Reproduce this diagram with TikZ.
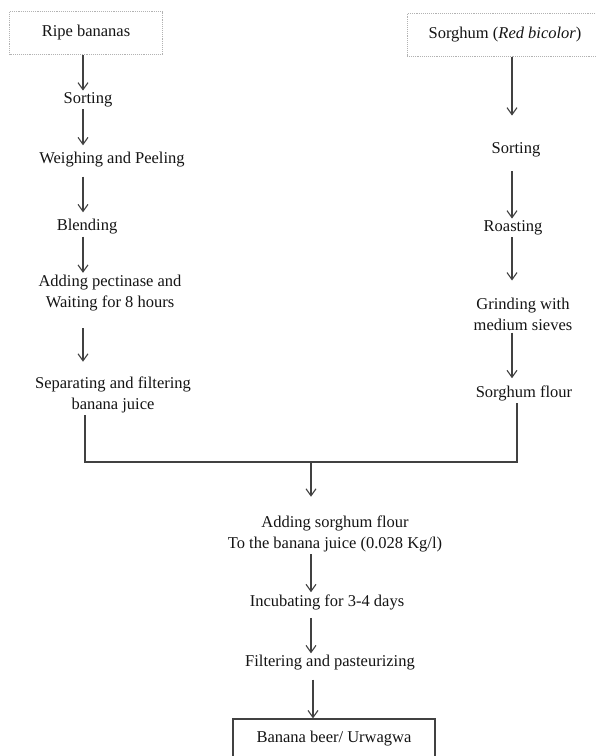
\documentclass[tikz,border=0pt]{standalone}
\usepackage{fontspec}
\setmainfont{Liberation Serif}
\usetikzlibrary{arrows.meta,positioning}
\definecolor{lineGray}{RGB}{65,65,65}
\definecolor{textGray}{RGB}{20,20,20}

\begin{document}
\begin{tikzpicture}[
    x=1pt, y=-1pt,
    stage/.style={align=center, inner xsep=2pt, inner ysep=2pt, text=textGray, font=\fontsize{16.5}{21}\selectfont},
    source/.style={stage, draw=gray!60, densely dotted, line width=0.9pt, minimum height=43pt},
    product/.style={stage, draw=lineGray, line width=1.3pt, minimum width=202pt, minimum height=40pt},
    flow/.style={-{Straight Barb[length=7pt,width=10pt]}, draw=lineGray, line width=1.1pt},
    mergeline/.style={draw=lineGray, line width=1.1pt}
]
    \useasboundingbox (0,0) rectangle (596,756);

    % columns of arrows
    \coordinate (colL) at (83,0);
    \coordinate (colR) at (512,0);
    \coordinate (colM) at (311,0);
    \coordinate (merge) at (311,462);

    % banana branch
    \node[source, minimum width=153pt] (ripe) at (86,33) {Ripe bananas};
    \node[stage] (sortL) at (88,100) {Sorting};
    \node[stage] (weigh) at (112,160) {Weighing and Peeling};
    \node[stage] (blend) at (87,227) {Blending};
    \node[stage] (pect) at (110,293) {Adding pectinase and\\Waiting for 8 hours};
    \node[stage] (sep) at (113,395) {Separating and filtering\\banana juice};

    % sorghum branch
    \node[source, minimum width=196pt] (sorghum) at (505,35) {Sorghum (\textit{Red bicolor})};
    \node[stage] (sortR) at (516,150) {Sorting};
    \node[stage] (roast) at (513,228) {Roasting};
    \node[stage] (grind) at (523,314) {Grinding with\\medium sieves};
    \node[stage] (flour) at (524,393) {Sorghum flour};

    % common part
    \node[stage] (addflour) at (335,534) {Adding sorghum flour\\To the banana juice (0.028 Kg/l)};
    \node[stage] (incub) at (327,602) {Incubating for 3-4 days};
    \node[stage] (filt) at (330,663) {Filtering and pasteurizing};
    \node[product] (beer) at (334,739) {Banana beer/ Urwagwa};

    \draw[flow] (ripe.south -| colL) -- (sortL.north -| colL);
    \draw[flow, shorten >=5pt] (sortL.south -| colL) -- (weigh.north -| colL);
    \draw[flow, shorten <=7pt, shorten >=5pt] (weigh.south -| colL) -- (blend.north -| colL);
    \draw[flow] (blend.south -| colL) -- (pect.north -| colL);
    \draw[flow, shorten <=15pt, shorten >=13pt] (pect.south -| colL) -- (sep.north -| colL);

    \draw[flow, shorten >=25pt] (sorghum.south -| colR) -- (sortR.north -| colR);
    \draw[flow, shorten <=12pt] (sortR.south -| colR) -- (roast.north -| colR);
    \draw[flow, shorten >=15pt] (roast.south -| colR) -- (grind.north -| colR);
    \draw[flow, shorten >=5pt] (grind.south -| colR) -- (flour.north -| colR);

    \draw[mergeline] ([xshift=2pt]sep.south -| colL) |- (merge) -| ([xshift=5pt]flour.south -| colR);
    \draw[flow, shorten >=17pt] (merge) -- (addflour.north -| colM);
    \draw[flow] (addflour.south -| colM) -- (incub.north -| colM);
    \draw[flow, shorten <=6pt] (incub.south -| colM) -- (filt.north -| colM);
    \draw[flow, shorten <=7pt] ([xshift=2pt]filt.south -| colM) -- ([xshift=2pt]beer.north -| colM);
\end{tikzpicture}
\end{document}
